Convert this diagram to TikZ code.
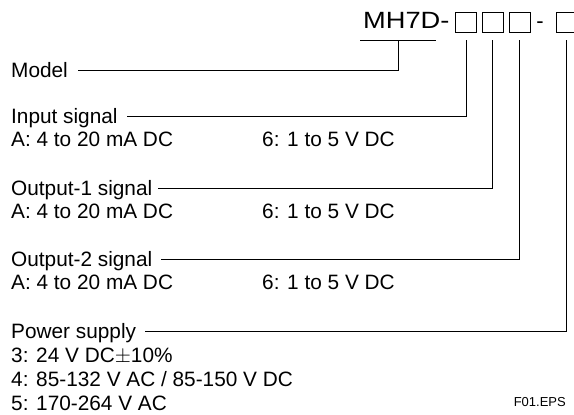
\documentclass[tikz,border=0pt]{standalone}
\usepackage{fontspec}
\setmainfont{Liberation Sans}
\begin{document}
\begin{tikzpicture}[x=1pt,y=-1pt,
  lbl/.style={inner sep=0pt,anchor=base west,font=\fontsize{20.8}{24}\selectfont},
  codebox/.style={draw,line width=0.8pt,minimum width=21pt,minimum height=20pt,inner sep=0pt},
  conn/.style={line width=0.9pt}]
\useasboundingbox (0,0) rectangle (574,415);
% header
\node[inner sep=0pt,anchor=base west] (hdr) at (363,28) {\scalebox{1.16}[1]{\fontsize{23.5}{24}\selectfont MH7D-}};
\node[codebox] (b1) at (466,22) {};
\node[codebox] (b2) at (492.5,22) {};
\node[codebox] (b3) at (519.5,22) {};
\node[inner sep=0pt,anchor=base] (dash) at (540,28) {\fontsize{22}{24}\selectfont -};
\node[codebox] (b4) at (566.5,22) {};
\coordinate (ulA) at (360,40);
\coordinate (ulB) at (436,40);
\coordinate (brk) at (398,40);
\draw[conn] (ulA) -- (ulB);
% labels
\node[lbl] (model) at (11,77) {Model};
\node[lbl] (in) at (11,123) {Input signal};
\node[lbl] (inA) at (11,146) {A: 4 to 20 mA DC};
\node[lbl] (in6) at (262,146) {6: 1 to 5 V DC};
\node[lbl] (o1) at (11,195) {Output-1 signal};
\node[lbl] (o1A) at (11,218) {A: 4 to 20 mA DC};
\node[lbl] (o16) at (262,218) {6: 1 to 5 V DC};
\node[lbl] (o2) at (11,266) {Output-2 signal};
\node[lbl] (o2A) at (11,289) {A: 4 to 20 mA DC};
\node[lbl] (o26) at (262,289) {6: 1 to 5 V DC};
\node[lbl] (pw) at (11,338) {Power supply};
\node[lbl] (pw3) at (11,362) {3: 24 V DC$\pm$10\%};
\node[lbl] (pw4) at (11,386) {4: 85-132 V AC / 85-150 V DC};
\node[lbl] (pw5) at (11,410) {5: 170-264 V AC};
\node[inner sep=0pt,anchor=base east,font=\fontsize{13}{15}\selectfont] (fig) at (566,406) {F01.EPS};
% connectors
\draw[conn] ([xshift=10pt,yshift=6.5pt]model.base east) -| (brk);
\draw[conn] ([yshift=-8pt]b1.south) |- ([xshift=9pt,yshift=6.8pt]in.base east);
\draw[conn] ([yshift=-8pt]b2.south) |- ([xshift=6pt,yshift=6.8pt]o1.base east);
\draw[conn] ([yshift=-8pt]b3.south) |- ([xshift=9pt,yshift=6.8pt]o2.base east);
\draw[conn] ([yshift=-8pt]b4.south) |- ([xshift=9pt,yshift=6.3pt]pw.base east);
\end{tikzpicture}
\end{document}
